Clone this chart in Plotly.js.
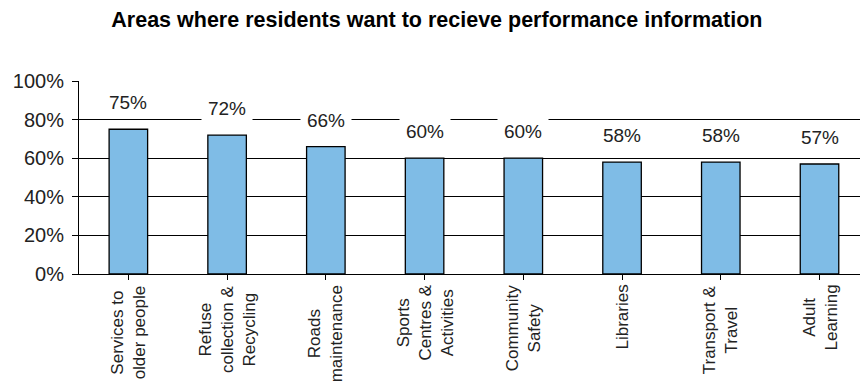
<!DOCTYPE html>
<html><head><meta charset="utf-8">
<script src="https://cdn.plot.ly/plotly-3.0.1.min.js"></script>
<style>html,body{margin:0;padding:0;background:#fff;overflow:hidden}</style>
</head><body>
<div id="chart" style="width:860px;height:381px"></div>
<script>
const categories = ["Services to<br>older people","Refuse<br>collection &<br>Recycling","Roads<br>maintenance","Sports<br>Centres &<br>Activities","Community<br>Safety","Libraries","Transport &<br>Travel","Adult<br>Learning"];
const values = [0.75,0.72,0.66,0.60,0.60,0.58,0.58,0.57];
const valueLabels = ["75%","72%","66%","60%","60%","58%","58%","57%"];
const idx = categories.map((c,i)=>i);

const trace = {
  type:'bar', x: idx, y: values,
  marker:{color:'#7fbce6', line:{color:'#000', width:1.3}},
  width:0.39, hoverinfo:'none'
};
const valueAnnotations = values.map((v,i)=>({
  x:i, y:v, xref:'x', yref:'y', text:valueLabels[i], showarrow:false,
  yanchor:'bottom', yshift:13, bgcolor:'#fff', width:46, borderpad:2,
  font:{family:'Liberation Sans, Arial, sans-serif', size:19, color:'#222'}
}));
const categoryAnnotations = categories.map((c,i)=>({
  x:i, y:0, xref:'x', yref:'y', text:c, showarrow:false, textangle:-90, align:'center',
  xanchor:'center', yanchor:'top', yshift:-10, borderpad:0,
  font:{family:'Liberation Sans, Arial, sans-serif', size:17, color:'#222'}
}));
const layout = {
  width:860, height:381,
  margin:{l:79, r:0, t:81, b:107},
  paper_bgcolor:'#fff', plot_bgcolor:'#fff',
  showlegend:false,
  title:{text:'<b>Areas where residents want to recieve performance information</b>', x:0.508, xanchor:'center', y:0.95, yanchor:'middle',
    font:{family:'Liberation Sans Narrow, Arial Narrow, Liberation Sans, sans-serif', size:21.5, color:'#000'}},
  xaxis:{range:[-0.5,7.41], tickmode:'array', tickvals:idx, ticktext:categories, showticklabels:false,
    ticks:'outside', tickson:'boundaries', ticklen:5, tickcolor:'#000', showline:true, linecolor:'#000', linewidth:1,
    showgrid:false, zeroline:false, fixedrange:true},
  yaxis:{range:[0,1], dtick:0.2, tickformat:'.0%', ticks:'outside', ticklen:6, tickcolor:'#000', ticklabelstandoff:4,
    showline:true, linecolor:'#000', linewidth:1, showgrid:true, gridcolor:'#000', gridwidth:1, zeroline:false,
    tickfont:{family:'Liberation Sans, Arial, sans-serif', size:20, color:'#222'}, fixedrange:true},
  annotations: valueAnnotations.concat(categoryAnnotations)
};
Plotly.newPlot('chart',[trace],layout,{displayModeBar:false, staticPlot:true});
</script>
</body></html>
